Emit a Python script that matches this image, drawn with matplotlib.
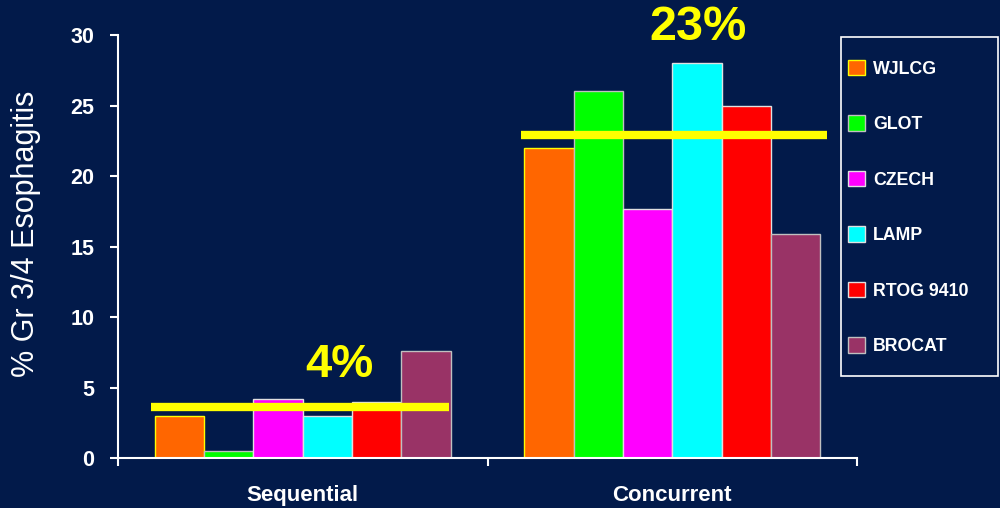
import numpy as np
import matplotlib.pyplot as plt
from matplotlib.patches import Patch, Rectangle

# Data
groups = ['Sequential', 'Concurrent']
trials = ['WJLCG', 'GLOT', 'CZECH', 'LAMP', 'RTOG 9410', 'BROCAT']
wjlcg = [3.0, 22.0]
glot = [0.5, 26.0]
czech = [4.2, 17.7]
lamp = [3.0, 28.0]
rtog = [4.0, 25.0]
brocat = [7.6, 15.9]
averages = [3.6, 22.9]
avg_labels = ['4%', '23%']

colors = ['#FF6600', '#00FF00', '#FF00FF', '#00FFFF', '#FF0000', '#993366']
edges = ['#FFFF00', '#C0C0C0', '#E0E0E0', '#E0E0E0', '#E0E0E0', '#C0C0C0']
bg = '#021A4A'

plt.rcParams['font.family'] = ['Liberation Sans', 'DejaVu Sans']

fig = plt.figure(figsize=(10, 5.08), dpi=100, facecolor=bg)
ax = fig.add_axes([0.118, 0.098, 0.739, 0.833], facecolor=bg)

x = np.arange(len(groups))
width = 0.8 / len(trials)
series = [wjlcg, glot, czech, lamp, rtog, brocat]
for i, vals in enumerate(series):
    ax.bar(x - 0.4 + width * (i + 0.5), vals, width, color=colors[i],
           edgecolor=edges[i], linewidth=1.0, label=trials[i])

# average lines
line_ext = [(-0.41, 0.395), (-0.41, 0.42)]
for xi, avg, (lo, hi) in zip(x, averages, line_ext):
    ax.plot([xi + lo, xi + hi], [avg, avg], color='#FFFF00', lw=6,
            solid_capstyle='butt', zorder=5)
ax.text(0.1, 6.6, avg_labels[0], color='#FFFF00', fontsize=34,
        fontweight='bold', ha='center', va='center')
ax.text(1.07, 30.5, avg_labels[1], color='#FFFF00', fontsize=35,
        fontweight='bold', ha='center', va='center', clip_on=False)

ax.set_xlim(-0.5, 1.5)
ax.set_ylim(0, 30)
ax.set_yticks(range(0, 31, 5))
ax.set_xticks([-0.5, 0.5, 1.5])
ax.set_xticklabels([])
ax.set_xticks(x, minor=True)
ax.set_xticklabels(groups, minor=True)
ax.tick_params(axis='x', which='minor', length=0, pad=19)
ax.tick_params(axis='x', which='major', length=6, width=1.5, color='white')
ax.tick_params(axis='y', length=6, width=1.5, color='white', pad=11)
for lbl in ax.get_xticklabels(minor=True):
    lbl.set_color('white')
    lbl.set_fontweight('bold')
    lbl.set_fontsize(16)
for lbl in ax.get_yticklabels():
    lbl.set_color('white')
    lbl.set_fontweight('bold')
    lbl.set_fontsize(15.5)

for s in ['top', 'right']:
    ax.spines[s].set_visible(False)
for s in ['left', 'bottom']:
    ax.spines[s].set_color('white')
    ax.spines[s].set_linewidth(1.5)

ax.set_ylabel('% Gr 3/4 Esophagitis', color='white', fontsize=22, va='center')
ax.yaxis.set_label_coords(-0.124, 0.53)

# legend frame drawn separately so padding can differ per side
fig.patches.append(Rectangle((0.841, 0.26), 0.157, 0.667, transform=fig.transFigure,
                             facecolor='none', edgecolor='white', lw=1.2))
handles = [Patch(facecolor=c, edgecolor=e) for c, e in zip(colors, edges)]
leg = fig.legend(handles, trials, loc='upper left', bbox_to_anchor=(0.848, 0.882),
                 frameon=False, labelspacing=2.12, handlelength=0.95,
                 handleheight=0.95, borderpad=0.0, handletextpad=0.45,
                 borderaxespad=0, prop={'weight': 'bold', 'size': 12.8})
for t in leg.get_texts():
    t.set_color('white')

fig.savefig('out.png', dpi=100, facecolor=bg)
